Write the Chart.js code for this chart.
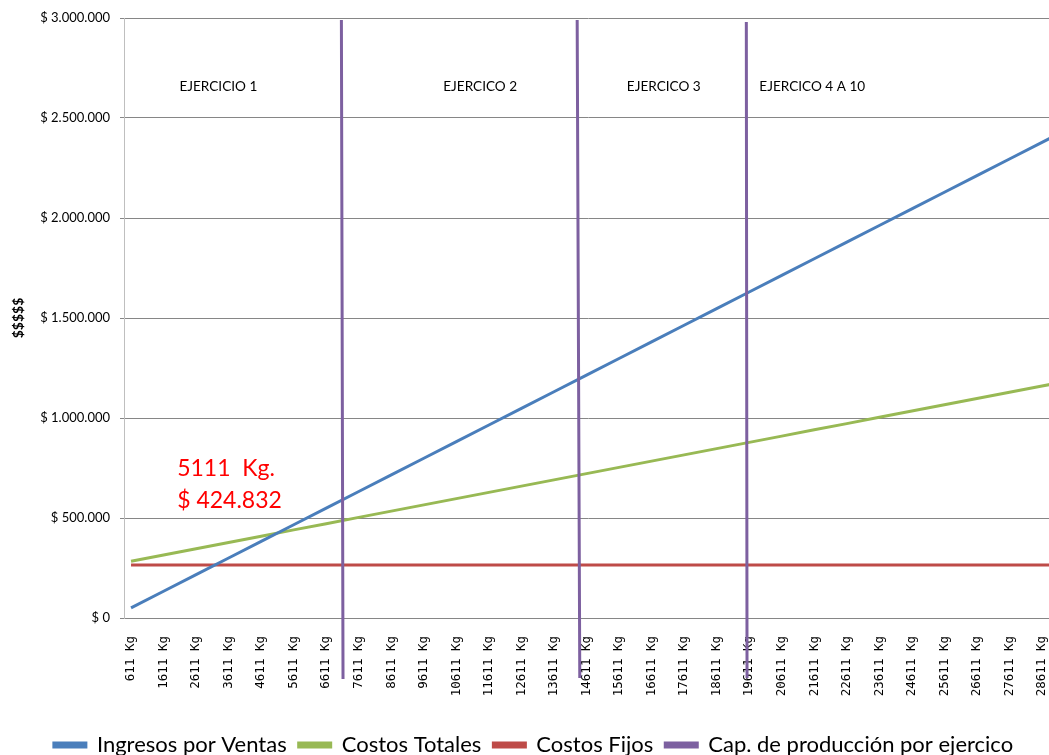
<!DOCTYPE html>
<html lang="es">
<head>
  <meta charset="UTF-8" />
  <title>Punto de equilibrio</title>
  <script src="https://cdn.jsdelivr.net/npm/chart.js@4.4.1/dist/chart.umd.min.js"></script>
  <style>
    html, body { margin: 0; padding: 0; background: #fff; overflow: hidden; }
    #wrap { width: 1067px; height: 766px; }
  </style>
</head>
<body>
  <div id="wrap"><canvas id="chart" width="1067" height="766"></canvas></div>

  <script>
    // kilos producidos (eje X)
    const kilos = [611, 1611, 2611, 3611, 4611, 5611, 6611, 7611, 8611, 9611,
      10611, 11611, 12611, 13611, 14611, 15611, 16611, 17611, 18611, 19611,
      20611, 21611, 22611, 23611, 24611, 25611, 26611, 27611, 28611, 29111];

    const ingresosVentas = [50800, 133900, 217000, 300100, 383300, 466400, 549500, 632600, 715700, 798900,
      882000, 965100, 1048200, 1131300, 1214500, 1297600, 1380700, 1463800, 1546900, 1630100,
      1713200, 1796300, 1879400, 1962500, 2045700, 2128800, 2211900, 2295000, 2378100, 2419700];

    const costosTotales = [284100, 315400, 346600, 377900, 409200, 440500, 471700, 503000, 534300, 565500,
      596800, 628100, 659300, 690600, 721900, 753200, 784400, 815700, 847000, 878200,
      909500, 940800, 972000, 1003300, 1034600, 1065900, 1097100, 1128400, 1159700, 1175300];

    const costosFijos = [265000, 265000, 265000, 265000, 265000, 265000, 265000, 265000, 265000, 265000,
      265000, 265000, 265000, 265000, 265000, 265000, 265000, 265000, 265000, 265000,
      265000, 265000, 265000, 265000, 265000, 265000, 265000, 265000, 265000, 265000];

    // capacidad de produccion: pares (arriba, abajo) por cada corte de ejercicio
    const capKilos = [7077, 7127, 14324, 14404, 19523, 19545];
    const capValor = [2990000, -305000, 2990000, -300000, 2980000, -300000];

    const ticksKilos = [611, 1611, 2611, 3611, 4611, 5611, 6611, 7611, 8611, 9611,
      10611, 11611, 12611, 13611, 14611, 15611, 16611, 17611, 18611, 19611,
      20611, 21611, 22611, 23611, 24611, 25611, 26611, 27611, 28611];

    const ejercicios = ['EJERCICIO 1', 'EJERCICO 2', 'EJERCICO 3', 'EJERCICO 4 A 10'];
    const ejercicioKilos = [3294, 11342, 16985, 21549];

    const equilibrioKg = 5111;
    const equilibrioValor = 424832;

    const miles = v => String(Math.round(v)).replace(/\B(?=(\d{3})+(?!\d))/g, '.');
    const serie = vals => kilos.map((k, i) => ({ x: k, y: vals[i] }));

    const capData = [];
    for (let i = 0; i < capKilos.length; i += 2) {
      if (i > 0) capData.push({ x: capKilos[i], y: null });
      capData.push({ x: capKilos[i], y: capValor[i] });
      capData.push({ x: capKilos[i + 1], y: capValor[i + 1] });
    }

    // textos sobre el grafico
    const textos = {
      id: 'textos',
      afterDatasetsDraw(chart) {
        const { ctx, scales: { x, y } } = chart;
        ctx.save();
        ctx.fillStyle = '#000';
        ctx.font = '13.6px Lato';
        ctx.textAlign = 'center';
        ctx.textBaseline = 'middle';
        ejercicios.forEach((t, i) => {
          ctx.fillText(t, x.getPixelForValue(ejercicioKilos[i]), y.getPixelForValue(2655000));
        });
        ctx.fillStyle = '#ff0000';
        ctx.font = '23px Lato';
        ctx.textAlign = 'left';
        const lx = x.getPixelForValue(2029);
        ctx.fillText(equilibrioKg + '  Kg.', lx, y.getPixelForValue(745000));
        ctx.fillText('$ ' + miles(equilibrioValor), lx, y.getPixelForValue(585000));
        ctx.restore();
      }
    };

    new Chart(document.getElementById('chart'), {
      type: 'line',
      data: {
        datasets: [
          { label: 'Ingresos por Ventas', data: serie(ingresosVentas), borderColor: '#4a7ebb', backgroundColor: '#4a7ebb', borderWidth: 3, order: 2 },
          { label: 'Costos Totales', data: serie(costosTotales), borderColor: '#98b954', backgroundColor: '#98b954', borderWidth: 3, order: 3 },
          { label: 'Costos Fijos', data: serie(costosFijos), borderColor: '#be4b48', backgroundColor: '#be4b48', borderWidth: 3, order: 4 },
          { label: 'Cap. de producción por ejercico', data: capData, borderColor: '#7d60a0', backgroundColor: '#7d60a0', borderWidth: 3, clip: false, spanGaps: false, order: 1 }
        ]
      },
      options: {
        responsive: false,
        animation: false,
        elements: { point: { radius: 0 }, line: { tension: 0 } },
        layout: { padding: { top: 18, left: 0, right: 0, bottom: 0 } },
        plugins: {
          tooltip: { enabled: false },
          legend: {
            position: 'bottom',
            labels: {
              font: { family: 'Lato', size: 22 },
              color: '#000',
              boxWidth: 32,
              boxHeight: 4,
              padding: 12,
              sort: (a, b) => a.datasetIndex - b.datasetIndex
            }
          }
        },
        scales: {
          x: {
            type: 'linear',
            min: 395,
            max: 28918,
            afterBuildTicks: s => { s.ticks = ticksKilos.map(v => ({ value: v })); },
            afterFit: s => { s.height = 104; },
            grid: { display: false },
            border: { display: true, color: '#868686' },
            ticks: {
              autoSkip: false,
              maxRotation: 90,
              minRotation: 90,
              padding: 10,
              color: '#000',
              font: { family: 'DejaVu Sans Mono', size: 12.5 },
              callback: v => v + ' Kg'
            }
          },
          y: {
            min: 0,
            max: 3000000,
            afterFit: s => { s.width = 124; },
            grid: { color: '#868686', tickLength: 4 },
            border: { color: '#bfbfbf' },
            title: {
              display: true,
              text: '$$$$$',
              color: '#000',
              font: { family: 'Lato', size: 14, weight: 'bold' },
              padding: { top: 10, bottom: 0 }
            },
            ticks: {
              stepSize: 500000,
              padding: 10,
              color: '#000',
              font: { family: 'Lato', size: 13 },
              callback: v => '$ ' + miles(v)
            }
          }
        }
      },
      plugins: [textos]
    });
  </script>
</body>
</html>
